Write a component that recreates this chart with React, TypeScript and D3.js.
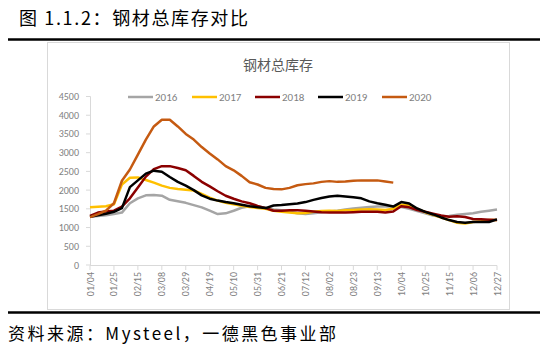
import React from 'react';
import * as d3 from 'd3';

// weekly ticks, one label every 3 weeks
const tickLabels = [
  '01/04', '01/25', '02/15', '03/08', '03/29', '04/19', '05/10', '05/31', '06/21',
  '07/12', '08/02', '08/23', '09/13', '10/04', '10/25', '11/15', '12/06', '12/27',
];
const years = ['2016', '2017', '2018', '2019', '2020'];
const colors = ['#A5A5A5', '#FFC000', '#8B0000', '#000000', '#C55A11'];

const s2016 = [
  1290, 1310, 1330, 1360, 1400, 1650, 1780, 1860, 1870, 1850, 1740, 1700, 1660,
  1600, 1540, 1450, 1360, 1380, 1450, 1530, 1570, 1560, 1530, 1480, 1460, 1420,
  1380, 1360, 1380, 1410, 1430, 1450, 1480, 1510, 1530, 1550, 1560, 1570, 1560,
  1550, 1500, 1440, 1380, 1320, 1290, 1310, 1340, 1360, 1380, 1420, 1450, 1480,
];
const s2017 = [
  1540, 1555, 1570, 1620, 2150, 2330, 2340, 2270, 2200, 2120, 2060, 2030, 2010,
  1990, 1900, 1800, 1720, 1660, 1620, 1580, 1550, 1520, 1500, 1450, 1420, 1400,
  1380, 1390, 1420, 1440, 1450, 1440, 1460, 1470, 1480, 1490, 1480, 1470, 1500,
  1610, 1600, 1500, 1410, 1340, 1270, 1200, 1130, 1110, 1150, 1170, 1200, 1200,
];
const s2018 = [
  1310, 1400, 1430, 1450, 1560, 1780, 2070, 2360, 2560, 2640, 2640, 2590, 2530,
  2380, 2220, 2100, 1970, 1850, 1770, 1700, 1650, 1580, 1520, 1450, 1450, 1460,
  1460, 1450, 1430, 1410, 1400, 1400, 1400, 1410, 1420, 1420, 1420, 1400, 1430,
  1570, 1540, 1470, 1420, 1370, 1320, 1290, 1300, 1280, 1230, 1220, 1210, 1200,
];
const s2019 = [
  1290, 1330, 1370, 1420, 1520, 2080, 2260, 2440, 2520, 2490, 2350, 2220, 2120,
  2000, 1860, 1770, 1720, 1680, 1650, 1610, 1570, 1540, 1520, 1590, 1600, 1620,
  1640, 1680, 1740, 1790, 1830, 1850, 1830, 1810, 1780, 1700, 1650, 1610, 1560,
  1680, 1640, 1510, 1420, 1350, 1270, 1200, 1150, 1130, 1150, 1150, 1150, 1220,
];
const s2020 = [
  1280, 1360, 1450, 1650, 2250, 2550, 2950, 3350, 3700, 3880, 3880, 3700, 3500,
  3350, 3150, 2980, 2820, 2640, 2530, 2380, 2210, 2150, 2060, 2030, 2020, 2060,
  2130, 2160, 2180, 2220, 2240, 2220, 2230, 2250, 2260, 2260, 2260, 2230, 2200,
];
const series = [s2016, s2017, s2018, s2019, s2020];
const yTicks = [0, 500, 1000, 1500, 2000, 2500, 3000, 3500, 4000, 4500];

const labelFont = 'Calibri, Carlito, "Liberation Sans", Arial, sans-serif';
const cjkFont = '"Noto Sans CJK SC", "Noto Sans", sans-serif';

export default function App() {
  const W = 550;
  const H = 354;
  const x = d3.scaleLinear().domain([0, 51]).range([90, 497]);
  const y = d3.scaleLinear().domain([0, 4500]).range([265, 96.5]);
  const line = d3
    .line<number>()
    .x((_, i) => x(i))
    .y((d) => y(d));

  const legendX = [128, 192, 255, 318, 382];

  return (
    <div style={{ position: 'absolute', left: 0, top: 0 }}>
      <svg width={W} height={H} style={{ display: 'block', background: '#fff' }}>
        <text x={19} y={25} fontFamily={cjkFont} fontSize={18} fill="#000" textLength={229}>
          图 1.1.2：钢材总库存对比
        </text>
        <line x1={8} x2={540} y1={39.5} y2={39.5} stroke="#000" strokeWidth={2.5} />

        <rect x={47.5} y={42.5} width={462} height={267} fill="#fff" stroke="#d9d9d9" />
        <text x={278} y={70} textAnchor="middle" fontFamily={cjkFont} fontSize={14} fill="#595959">
          钢材总库存
        </text>

        {/* y axis */}
        <line x1={90.5} x2={90.5} y1={y(4500)} y2={y(0)} stroke="#d9d9d9" />
        {yTicks.map((t) => (
          <g key={t}>
            <line x1={86} x2={90.5} y1={y(t)} y2={y(t)} stroke="#d9d9d9" />
            <text
              x={79}
              y={y(t) + 3.5}
              textAnchor="end"
              fontFamily={labelFont}
              fontSize={10}
              fill="#7f7f7f"
            >
              {t}
            </text>
          </g>
        ))}

        {/* x axis */}
        <line x1={90} x2={497} y1={265.5} y2={265.5} stroke="#d9d9d9" />
        {tickLabels.map((lab, k) => {
          const px = x(k * 3);
          return (
            <g key={lab}>
              <line x1={px} x2={px} y1={265.5} y2={270} stroke="#d9d9d9" />
              <text
                transform={`translate(${px + 3.5},${272}) rotate(-90)`}
                textAnchor="end"
                fontFamily={labelFont}
                fontSize={10}
                fill="#7f7f7f"
              >
                {lab}
              </text>
            </g>
          );
        })}

        {series.map((s, i) => (
          <path
            key={years[i]}
            d={line(s) || ''}
            fill="none"
            stroke={colors[i]}
            strokeWidth={2.5}
            strokeLinejoin="round"
          />
        ))}

        {/* legend */}
        {years.map((yr, i) => (
          <g key={yr}>
            <line
              x1={legendX[i]}
              x2={legendX[i] + 25}
              y1={97}
              y2={97}
              stroke={colors[i]}
              strokeWidth={2.5}
            />
            <text
              x={legendX[i] + 27}
              y={101}
              fontFamily={labelFont}
              fontSize={11}
              fill="#7f7f7f"
            >
              {yr}
            </text>
          </g>
        ))}

        <line x1={8} x2={540} y1={312.5} y2={312.5} stroke="#000" strokeWidth={2.5} />
        <text x={8} y={340} fontFamily={cjkFont} fontSize={17} fill="#000" textLength={328}>
          资料来源：Mysteel，一德黑色事业部
        </text>
      </svg>
    </div>
  );
}
